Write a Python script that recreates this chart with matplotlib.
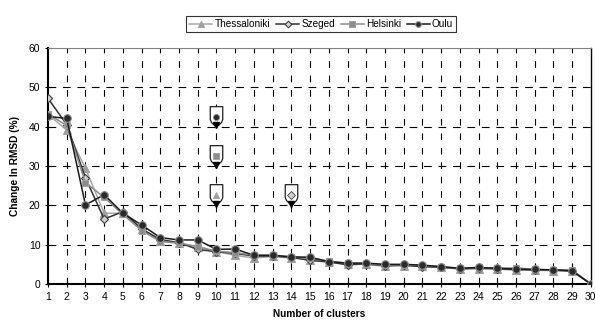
import matplotlib
matplotlib.use('Agg')
import matplotlib.pyplot as plt
from matplotlib.path import Path
from matplotlib.transforms import ScaledTranslation

plt.rcParams['font.family'] = ['Liberation Sans', 'DejaVu Sans']

# 数据
clusters = list(range(1, 31))
thessaloniki = [43.0, 39.2, 29.4, 18.0, 18.0, 14.0, 11.0, 10.3, 9.5, 8.2, 7.3, 6.6, 7.0, 6.6, 6.2,
                5.6, 5.0, 5.0, 4.5, 4.6, 4.5, 4.2, 3.8, 3.9, 3.8, 3.5, 3.5, 3.4, 3.3, 0.0]
szeged = [47.2, 40.5, 27.0, 16.5, 18.4, 14.0, 11.3, 10.5, 8.8, 8.2, 7.8, 7.1, 7.1, 6.8, 6.0,
          5.6, 4.9, 5.1, 4.7, 4.8, 4.4, 4.3, 3.9, 4.0, 3.9, 3.7, 3.6, 3.5, 3.3, 0.0]
helsinki = [43.2, 40.3, 25.8, 22.0, 17.7, 13.6, 10.8, 10.4, 9.5, 8.3, 8.0, 7.3, 7.3, 6.9, 6.5,
            5.8, 5.3, 5.2, 4.8, 4.9, 4.7, 4.4, 4.0, 4.2, 4.0, 4.1, 3.7, 3.6, 3.5, 0.0]
oulu = [42.6, 42.1, 20.1, 22.7, 18.0, 15.0, 11.8, 11.2, 11.2, 8.8, 8.9, 7.3, 7.3, 6.9, 6.8,
        5.7, 5.3, 5.3, 5.0, 5.0, 4.8, 4.4, 4.0, 4.2, 4.0, 3.8, 3.7, 3.6, 3.4, 0.0]

# 标注位置
pin_city = ['Oulu', 'Helsinki', 'Thessaloniki', 'Szeged']
pin_x = [10, 10, 10, 14]
pin_y = [40, 30, 20, 20]

styles = {
    'Thessaloniki': dict(color='#a8a8a8', marker='^', mfc='#a0a0a0', mec='#a0a0a0', ms=5.5),
    'Szeged': dict(color='#303030', marker='D', mfc='#d0d0d0', mec='#404040', ms=4.5),
    'Helsinki': dict(color='#8c8c8c', marker='s', mfc='#8c8c8c', mec='#a0a0a0', ms=5),
    'Oulu': dict(color='#1a1a1a', marker='o', mfc='#2a2a2a', mec='#909090', ms=5.5),
}
series = {'Thessaloniki': thessaloniki, 'Szeged': szeged, 'Helsinki': helsinki, 'Oulu': oulu}

fig = plt.figure(figsize=(5.95, 3.2), dpi=100)
ax = fig.add_axes([0.0807, 0.1125, 0.9123, 0.7375])

for name in ['Thessaloniki', 'Szeged', 'Helsinki', 'Oulu']:
    st = styles[name]
    ax.plot(clusters, series[name], color=st['color'], lw=1.1, marker=st['marker'],
            mfc=st['mfc'], mec=st['mec'], ms=st['ms'], mew=0.8, label=name, zorder=3)

# 标注 (pin 形状)
pin_path = Path([(-0.3, 1.0), (0.3, 1.0), (0.3, 0.38), (0.24, 0.24), (0.12, 0.12), (0.0, 0.06),
                 (-0.12, 0.12), (-0.24, 0.24), (-0.3, 0.38), (-0.3, 1.0)],
                [Path.MOVETO] + [Path.LINETO] * 8 + [Path.CLOSEPOLY])
inner_off = ax.transData + ScaledTranslation(0, 10 / 100, fig.dpi_scale_trans)
tip_off = ax.transData + ScaledTranslation(0, 1.5 / 100, fig.dpi_scale_trans)
for name, px, py in zip(pin_city, pin_x, pin_y):
    st = styles[name]
    ax.plot([px], [py], marker=pin_path, ms=30, mfc='white', mec='#202020', mew=0.9,
            ls='none', zorder=5)
    ax.plot([px], [py], marker='v', ms=4, color='black', ls='none', zorder=6, transform=tip_off)
    ax.plot([px], [py], marker=st['marker'], ms=st['ms'] * 0.8, mfc=st['mfc'], mec=st['mec'],
            mew=0.6, ls='none', zorder=6, transform=inner_off)

ax.set_xlim(1, 30)
ax.set_ylim(0, 60)
ax.set_xticks(clusters)
ax.set_yticks(range(0, 61, 10))
ax.tick_params(direction='inout', length=5, width=0.8, labelsize=7.5, pad=3)

for x in clusters[1:-1]:
    ax.axvline(x, color='black', lw=0.8, ls=(0, (6, 7)), zorder=1)
for y in range(10, 60, 10):
    ax.axhline(y, color='black', lw=0.8, ls=(0, (7, 6)), zorder=1)

for side in ['left', 'bottom']:
    ax.spines[side].set_linewidth(1.5)
ax.spines['right'].set_linewidth(1.0)
ax.spines['top'].set_linewidth(0.8)
ax.spines['top'].set_color('#808080')

ax.set_xlabel('Number of clusters', fontsize=7.3, weight='bold', labelpad=5)
ax.set_ylabel('Change In RMSD (%)', fontsize=7.3, weight='bold', labelpad=6)

leg = fig.legend(loc='center', bbox_to_anchor=(0.54, 0.924), ncol=4, fontsize=7.2,
                 frameon=True, fancybox=False, edgecolor='black', handlelength=2.3,
                 handletextpad=0.2, columnspacing=0.6, borderpad=0.3, markerscale=0.75)
leg.get_frame().set_linewidth(0.8)

fig.savefig('out.png', dpi=100)
